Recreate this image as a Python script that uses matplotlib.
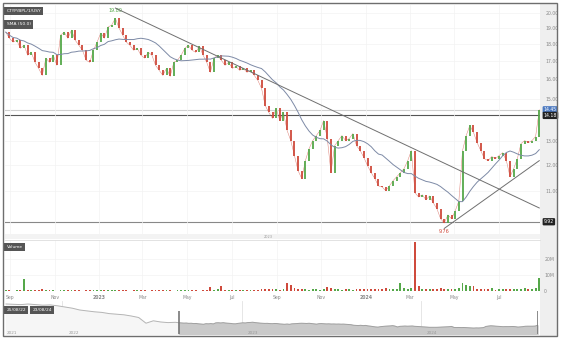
import numpy as np
import pandas as pd
import matplotlib
matplotlib.use("Agg")
import matplotlib.pyplot as plt
from matplotlib.patches import Rectangle

# price closes, one every 5 days from 2022-08-26 (log scale)
closes = [
    18.76, 18.38, 18.14, 18.26, 17.77, 17.95, 17.36, 17.53, 16.95, 16.61,
    16.22, 17.19, 16.95, 17.36, 16.78, 18.57, 18.76, 18.38, 18.89, 18.26,
    17.95, 17.65, 17.07, 16.95, 17.65, 18.14, 18.70, 18.38, 19.08, 19.21,
    19.66, 19.02, 18.57, 18.14, 17.95, 17.65, 17.77, 17.36, 17.19, 17.53,
    17.36, 16.78, 16.50, 16.22, 16.61, 16.17, 16.95, 17.07, 17.36, 17.77,
    17.95, 17.65, 17.53, 17.89, 17.36, 16.95, 16.39, 17.19, 17.36, 17.07,
    16.78, 16.95, 16.61, 16.72, 16.50, 16.61, 16.39, 16.50, 16.22, 15.95,
    15.53, 14.66, 14.32, 14.04, 14.52, 13.94, 14.32, 13.48, 13.03, 12.39,
    11.78, 11.47, 12.18, 12.68, 13.03, 13.25, 13.48, 13.94, 13.12, 11.70,
    12.81, 13.03, 13.25, 13.03, 13.12, 13.34, 12.81, 12.60, 12.31, 11.98,
    11.70, 11.47, 11.19, 11.15, 11.01, 11.19, 11.39, 11.54, 11.70, 11.86,
    12.18, 12.60, 10.93, 10.78, 10.86, 10.68, 10.82, 10.57, 10.36, 10.02,
    9.88, 10.15, 10.02, 10.29, 10.64, 12.60, 13.25, 13.71, 13.39, 12.94,
    12.60, 12.26, 12.18, 12.35, 12.26, 12.39, 12.51, 12.18, 11.54, 11.86,
    12.26, 12.90, 13.03, 12.94, 13.03, 13.21, 14.45]

# volume in millions, same dates
volumes = [
    0.4, 0.6, 0.3, 0.5, 0.8, 7.5, 0.6, 0.4, 0.5, 0.7,
    1.2, 0.5, 0.4, 0.6, 0.3, 0.9, 0.7, 0.5, 0.4, 0.6,
    0.5, 0.3, 0.6, 0.4, 0.5, 0.8, 0.6, 0.4, 0.7, 0.5,
    0.9, 0.6, 0.5, 0.4, 0.3, 0.5, 0.6, 0.4, 0.5, 0.3,
    0.4, 0.6, 0.5, 0.7, 0.4, 0.5, 0.3, 0.6, 0.4, 0.5,
    0.6, 0.4, 0.5, 0.3, 0.6, 0.8, 2.5, 0.7, 1.0, 3.0,
    0.5, 0.4, 0.6, 0.5, 0.4, 0.7, 0.5, 0.6, 0.8, 0.9,
    1.1, 1.5, 1.2, 1.0, 1.3, 0.9, 1.4, 5.0, 4.0, 1.6,
    1.2, 1.5, 1.0, 0.9, 1.3, 1.1, 0.8, 1.2, 2.5, 1.6,
    1.0, 1.2, 0.9, 1.4, 1.1, 0.8, 1.3, 1.0, 1.5, 1.2,
    1.1, 1.4, 1.3, 1.0, 1.6, 1.2, 1.4, 1.1, 5.0, 1.8,
    1.3, 1.6, 31.0, 3.0, 1.5, 1.2, 1.4, 1.0, 1.3, 1.6,
    1.2, 1.5, 1.1, 1.4, 1.8, 5.0, 4.0, 3.0, 3.0, 1.4,
    1.2, 1.0, 1.1, 2.0, 0.9, 1.2, 1.0, 1.3, 1.1, 1.5,
    1.0, 1.2, 2.0, 1.3, 1.1, 1.6, 8.0]

# navigator history before the zoomed window (every 15 days from 2021-09-08)
nav_early = [50, 49.5, 49, 50, 49, 48, 48.5, 47, 45, 43, 40, 38.5,
             37, 36, 34, 33, 32, 30, 27.5, 18, 22, 20, 19, 19.5]

price_ticks = [20, 19, 18, 17, 16, 15, 13, 12, 11]
month_ticks = ["2022-09-01", "2022-11-01", "2023-01-01", "2023-03-01", "2023-05-01",
               "2023-07-01", "2023-09-01", "2023-11-01", "2024-01-01", "2024-03-01",
               "2024-05-01", "2024-07-01"]
month_labels = ["Sep", "Nov", "2023", "Mar", "May", "Jul", "Sep", "Nov", "2024",
                "Mar", "May", "Jul"]
nav_years = ["2022-01-01", "2023-01-01", "2024-01-01"]

last_price = 14.45
resistance = 14.18
support = 9.92
peak_label = "19.80"
low_label = "9.76"

RED = "#cf4a3c"
GREEN = "#55a84a"
W, H = 564, 344


def box(l, t, r, b):
    return [l / W, 1 - b / H, (r - l) / W, (b - t) / H]


dates = pd.date_range("2022-08-26", periods=len(closes), freq="5D")
opens = [closes[0]] + closes[:-1]
up = np.array(closes) >= np.array(opens)
colors = np.where(up, GREEN, RED)
# 50 trading days ~ 14 points of 5 calendar days
sma = pd.Series(closes).rolling(14, min_periods=1).mean()
ticks = pd.to_datetime(month_ticks)
xlim = (dates[0] - pd.Timedelta(days=1), dates[-1] + pd.Timedelta(days=1))

fig = plt.figure(figsize=(W / 100, H / 100), dpi=100)
fig.patch.set_facecolor("white")

# right axis strip and outer frame
fig.add_artist(Rectangle((540 / W, 1 - 336 / H), 17 / W, 333 / H, transform=fig.transFigure,
                         fc="#efefef", ec="none", zorder=0))
fig.add_artist(Rectangle((5 / W, 1 - 239 / H), 535 / W, 5 / H, transform=fig.transFigure,
                         fc="#f3f3f3", ec="none", zorder=0))
fig.add_artist(Rectangle((3 / W, 1 - 336 / H), 554 / W, 333 / H, transform=fig.transFigure,
                         fill=False, ec="#6e6e6e", lw=1.0, zorder=10))
fig.text(268 / W, 1 - 237 / H, "2023", fontsize=2.5, color="#999", ha="center", va="center")

# ---- main price panel
ax = fig.add_axes(box(5, 5, 540, 234))
ax.set_yscale("log")
ax.set_ylim(9.52, 20.55)
ax.set_xlim(xlim)
ax.vlines(dates, opens, closes, colors=colors, lw=1.3, zorder=3)
ax.plot(dates, closes, color=RED, lw=0.35, alpha=0.7, zorder=2)
ax.plot(dates, sma, color="#7d8aa6", lw=0.7, zorder=4)

ax.axhline(last_price, color="#cfcfcf", lw=0.8, zorder=1)
ax.axhline(resistance, color="#555555", lw=0.8, zorder=1)
ax.axhline(support, color="#888888", lw=0.8, zorder=1)
ax.plot([dates[30], dates[-1]], [20.34, 10.39], color="#6f6f6f", lw=0.7, zorder=5)
ax.plot([dates[120], dates[-1]], [9.70, 12.18], color="#6f6f6f", lw=0.7, zorder=5)

ax.text(dates[30], 20.15, peak_label, color=GREEN, fontsize=3.5, ha="center", va="center")
ax.text(dates[120], 9.59, low_label, color=RED, fontsize=3.5, ha="center", va="center")

ax.yaxis.tick_right()
ax.yaxis.set_minor_locator(plt.NullLocator())
ax.set_yticks(price_ticks)
ax.set_yticklabels([f"{v:.2f}" for v in price_ticks], fontsize=3.3, color="#888")
ax.set_xticks(ticks)
ax.tick_params(length=0, labelbottom=False, pad=4)
ax.grid(color="#f3f3f3", lw=0.5)
for s in ax.spines.values():
    s.set_visible(False)

for val, fc in [(last_price, "#4a78c0"), (resistance, "#222222"), (support, "#222222")]:
    ax.text(1.007, val, f"{val:.2f}", transform=ax.get_yaxis_transform(), fontsize=3.3,
            color="white", va="center", ha="left",
            bbox=dict(boxstyle="round,pad=0.25", fc=fc, ec="none"))

ax.text(0.003, 0.975, "CTYP/BPL/1/USY", transform=ax.transAxes, fontsize=3.2, color="white",
        va="center", ha="left", bbox=dict(boxstyle="square,pad=0.5", fc="#555", ec="none"))
ax.text(0.003, 0.915, "SMA (50.0)", transform=ax.transAxes, fontsize=3.2, color="white",
        va="center", ha="left", bbox=dict(boxstyle="square,pad=0.5", fc="#555", ec="none"))

# ---- volume panel
axv = fig.add_axes(box(5, 240, 540, 291))
axv.bar(dates, volumes, width=2.5, color=colors, zorder=3)
axv.axhline(0.15, color=RED, lw=0.5, zorder=2)
axv.set_xlim(xlim)
axv.set_ylim(0, 32)
axv.yaxis.tick_right()
axv.set_yticks([0, 10, 20])
axv.set_yticklabels(["0", "10M", "20M"], fontsize=3.3, color="#888")
axv.set_xticks(ticks)
axv.set_xticklabels(month_labels, fontsize=3.3, color="#888")
for lab in axv.get_xticklabels():
    if lab.get_text().isdigit():
        lab.set_fontweight("bold")
axv.tick_params(length=0, pad=3)
axv.grid(color="#f3f3f3", lw=0.5)
for s in axv.spines.values():
    s.set_visible(False)
axv.spines["top"].set_visible(True)
axv.spines["top"].set_color("#dddddd")
axv.spines["top"].set_linewidth(0.6)
axv.text(0.003, 0.86, "Volume", transform=axv.transAxes, fontsize=3.2, color="white",
         va="center", ha="left", bbox=dict(boxstyle="square,pad=0.5", fc="#555", ec="none"))

# ---- navigator
axn = fig.add_axes(box(5, 301, 538, 334))
nav_dates = pd.date_range("2021-09-08", periods=len(nav_early), freq="15D")
early_x = list(nav_dates) + [dates[0]]
early_y = nav_early + [closes[0]]
axn.fill_between(early_x, early_y, color="#f6f6f6", zorder=1)
axn.plot(early_x, early_y, color="#b5b5b5", lw=0.7, zorder=2)
axn.fill_between(dates, closes, color="#c9c9c9", zorder=1)
axn.plot(dates, closes, color="#a0a0a0", lw=0.7, zorder=2)
axn.set_xlim(pd.Timestamp("2021-09-06"), pd.Timestamp("2024-08-26"))
axn.set_ylim(0, 55)
for yr in pd.to_datetime(nav_years):
    axn.axvline(yr, color="#e2e2e2", lw=0.6, zorder=0)
    axn.text(yr + pd.Timedelta(days=12), 2.5, str(yr.year), fontsize=3, color="#999", va="center")
axn.text(pd.Timestamp("2021-09-10"), 2.5, "2021", fontsize=3, color="#999", va="center")
axn.vlines([dates[0], dates[-1]], 0, 38, color="#777", lw=1.2, zorder=3)
axn.set_xticks([])
axn.set_yticks([])
for s in axn.spines.values():
    s.set_visible(False)
axn.text(0.003, 0.72, "25/08/22", transform=axn.transAxes, fontsize=3.2, color="white",
         va="center", ha="left", bbox=dict(boxstyle="square,pad=0.5", fc="#555", ec="none"))
axn.text(0.052, 0.72, "23/08/24", transform=axn.transAxes, fontsize=3.2, color="white",
         va="center", ha="left", bbox=dict(boxstyle="square,pad=0.5", fc="#555", ec="none"))

fig.savefig("out.png", dpi=100)
